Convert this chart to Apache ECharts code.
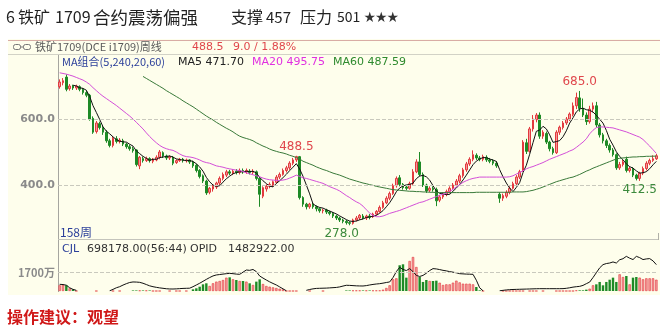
<!DOCTYPE html>
<html><head><meta charset="utf-8">
<script src="https://cdn.jsdelivr.net/npm/echarts@6/dist/echarts.min.js"></script>
<style>html,body{margin:0;padding:0;background:#fff}#c{width:670px;height:330px}</style>
</head><body><div id="c"></div>
<script>
// weekly OHLC: [open, close, low, high]
const ohlc = [
[698,712,692,720],[710,716,702,724],[727,690,684,735],[692,700,686,706],[700,694,688,704],
[694,700,688,704],[698,690,684,702],[690,680,674,694],[680,672,666,686],[672,600,595,676],
[602,560,555,608],[562,588,556,594],[586,574,568,592],[574,560,552,580],[560,534,528,566],
[534,520,514,540],[520,542,514,548],[540,532,526,548],[532,536,526,542],[534,524,518,540],
[524,516,510,528],[516,510,504,522],[510,504,498,516],[506,462,456,508],[458,484,448,488],
[480,474,468,486],[474,480,470,486],[480,474,468,484],[472,478,466,482],[476,484,472,490],
[484,500,478,506],[498,488,482,502],[488,482,476,492],[482,486,476,490],[484,466,460,488],
[468,474,464,478],[474,478,470,482],[478,474,468,482],[474,476,468,480],[476,470,464,478],
[470,458,452,474],[460,444,438,464],[444,426,420,448],[428,412,406,432],[412,376,370,416],
[378,390,372,394],[388,396,380,400],[394,406,388,410],[406,420,400,426],[420,432,414,438],
[430,440,424,446],[440,436,430,446],[436,442,430,448],[442,438,432,448],[438,444,432,450],
[444,440,434,450],[440,444,434,450],[442,438,432,448],[438,442,432,448],[440,420,414,444],
[420,372,334,424],[366,392,360,396],[388,396,380,402],[396,402,390,408],[400,410,394,414],
[408,424,404,430],[424,432,418,438],[432,444,428,450],[444,452,438,458],[452,466,446,472],
[466,476,460,482],[476,486,470,488.5],[486,362,356,488],[362,342,334,366],[342,334,326,346],
[334,342,328,346],[342,334,328,346],[334,328,320,338],[328,322,316,332],[322,324,314,328],
[324,318,312,328],[318,314,308,322],[314,306,300,318],[306,300,294,310],[300,294,288,304],
[294,290,284,298],[290,286,280,294],[286,284,278,290],[284,294,280,298],[294,300,290,306],
[300,308,294,312],[306,300,296,312],[300,306,294,310],[306,302,296,312],[304,312,300,316],
[312,320,308,324],[320,332,316,338],[332,346,328,352],[346,360,342,366],[360,374,354,380],
[374,398,370,404],[398,420,392,426],[422,402,396,430],[402,392,386,406],[394,390,384,398],
[390,404,386,410],[404,440,400,448],[440,470,436,478],[470,432,426,500],[432,400,394,438],
[400,382,376,404],[384,390,378,396],[390,386,380,396],[386,352,336,392],[354,364,348,370],
[364,372,358,378],[372,380,366,386],[380,390,374,396],[390,400,386,406],[400,412,396,418],
[412,428,406,434],[428,446,422,452],[446,464,440,470],[464,478,458,484],[478,492,472,505],
[490,482,476,496],[482,478,472,488],[478,486,472,492],[484,476,470,490],[476,472,466,482],
[472,466,460,478],[466,458,452,472],[372,360,346,378],[360,368,352,374],[366,378,360,384],
[378,390,372,396],[390,404,386,410],[404,424,400,430],[424,440,418,446],[445,530,440,536],
[528,502,494,540],[502,570,498,576],[570,600,562,612],[598,612,590,618],[612,548,540,620],
[548,560,540,566],[556,530,524,562],[530,510,502,534],[510,498,492,516],[498,560,494,566],
[560,575,552,580],[574,588,568,594],[588,600,582,606],[600,615,594,620],[614,640,608,650],
[640,665,630,680],[664,632,622,685],[632,612,606,662],[612,592,582,620],[592,630,586,640],
[630,640,620,650],[640,582,574,652],[582,552,544,588],[552,534,526,558],[534,520,512,540],
[520,506,498,526],[506,492,486,512],[492,452,446,496],[452,462,446,470],[462,470,456,476],
[478,444,438,486],[444,450,438,456],[450,430,424,454],[430,420,414,434],[420,436,412.5,440],
[436,450,430,456],[450,466,444,472],[466,474.5,460,480],[474.5,479.5,470,490],[479.5,488.5,476,494]
];
const ma20 = [
740,738,736,733,730,726,722,718,712,705,
695,686,677,669,662,655,648,641,633,625,
617,609,600,590,580,570,558,547,537,528,
520,514,510,507,505,500,494,489,486,485,
483,480,476,471,468,466,462,458,456,454,
451,449,447,445,444,441,437,434,431,428,
425,421,418,416,415,414,414,415,417,421,
425,430,426,422,420,417,414,411,408,405,
400,395,391,387,382,375,368,362,355,349,
344,336,325,315,308,304,304,306,310,314,
317,320,323,327,331,335,339,343,347,349,
353,357,361,365,369,372,375,380,387,394,
401,408,413,417,420,422,424,424,424,424,
424,424,424,424,424,425,428,433,438,443,
449,453,456,460,464,468,473,478,482,486,
490,494,498,503,507,514,522,530,540,555,
566,574,576,576,575,574,573,570,567,564,
561,557,553,549,545,538,528,518,507,495.75
];
const ma60 = [
null,null,null,null,null,null,null,null,null,null,
null,null,null,null,null,null,null,null,null,null,
null,null,null,null,null,729,723,717,711,705,
699,693,686,680,674,668,662,655,649,643,
637,630,623,616,609,603,597,590,584,578,
572,567,561,554,548,544,541,538,534,528,
523,518,514,509,505,502,499,497,494,490,
487,483,479,472,468,464,460,455,451,447,
444,440,436,433,430,426,422,418,415,412,
409,406,404,401,399,396,394,392,390,388,
386,385,384,383,382,381,381,380,380,379,
379,378,378,377,377,377,377,377,377,377,
377,377,377,377,377,378,378,378,378,378,
378,378,378,378,378,378,379,379,379,379,
380,382,384,387,390,394,398,402,406,410,
413,416,419,422,424,428,432,437,442,446,
451,455,459,463,467,471,475,479,481,482,
483,484,485,485,486,486,487,487,487.3,487.59
];
// volume (CJL, 万) and open interest (OPID) on the same panel scale
const volume = [
530,590,530,250,150,0,0,0,0,0,
0,0,0,0,0,0,0,0,0,0,
0,0,50,50,50,50,50,50,0,0,
0,0,0,0,0,0,0,0,0,0,
155,250,400,620,715,465,715,870,930,1020,
1240,1270,1085,1020,930,930,870,715,560,870,
1085,650,465,400,340,280,215,155,0,0,
0,0,0,0,0,0,0,0,0,0,
0,0,0,0,0,0,50,50,50,50,
50,50,50,50,50,50,50,125,280,530,
1085,1180,2390,2480,1240,2790,3160,2230,1300,840,
1020,930,930,960,770,560,620,620,775,960,
800,680,680,680,620,370,60,0,0,0,
0,0,0,0,0,0,0,0,0,0,
0,0,0,0,0,0,0,0,0,0,
0,0,0,0,0,60,60,60,125,215,
530,620,840,530,840,1050,1240,840,1550,1300,
1395,620,1240,1300,1240,1085,1180,1180,1180,1050
];
const opid = [
620,600,540,300,150,60,null,null,null,null,
null,null,null,null,null,20,150,300,400,550,
680,790,840,830,805,720,600,480,400,340,
290,250,210,190,185,200,220,240,250,260,
400,560,720,900,1080,1250,1400,1490,1530,1570,
1610,1640,1610,1570,1550,1750,1950,1920,2000,1800,
1395,1200,1020,850,700,560,380,200,20,null,
null,null,null,null,60,140,200,240,250,260,
270,290,310,330,380,460,530,520,500,480,
470,465,500,560,610,650,680,730,790,840,
1250,1800,2200,2000,1900,2080,1800,1450,1350,1450,
1650,1900,2080,2050,1990,1920,1870,1800,1750,1690,
1610,1590,1570,1560,1550,1000,300,20,null,null,
null,null,20,60,100,125,140,150,160,170,
180,190,200,210,215,215,215,215,215,215,
215,220,250,300,360,400,430,520,680,830,
1250,1700,2150,2450,2550,2600,2700,2600,2900,3000,
3220,3050,2920,3220,3100,2920,2980,3010,2800,2450
];
const priceTicks = [400, 600];
const volTick = 1700;
const peaks = [[71, 488.5], [156, 685]];
const troughs = [[87, 278], [174, 412.5]];
const legendTexts = ['MA组合(5,240,20,60)', 'MA5 471.70', 'MA20 495.75', 'MA60 487.59'];

const weeks = ohlc.map((d, i) => i + 1);
const closes = ohlc.map(d => d[1]);
const ma5 = closes.map((c, i) => i < 4 ? null : +((closes[i]+closes[i-1]+closes[i-2]+closes[i-3]+closes[i-4])/5).toFixed(2));

const UP = '#f39a9a', UPB = '#e2393e', DN = '#1e8a26';
const CJK = '"Noto Sans CJK SC", sans-serif';
const LAT = '"DejaVu Sans", "Noto Sans CJK SC", sans-serif';

function txt(x, y, text, font, fill) {
  return {type: 'text', x: x, y: y, style: {text: text, font: font, fill: fill, verticalAlign: 'middle'}};
}

const chart = echarts.init(document.getElementById('c'));
chart.setOption({
  animation: false,
  grid: [
    {left: 58, right: 12, top: 70, height: 166},
    {left: 58, right: 12, top: 243, height: 48}
  ],
  xAxis: [
    {type: 'category', data: weeks, gridIndex: 0, show: false},
    {type: 'category', data: weeks, gridIndex: 1, show: false}
  ],
  yAxis: [
    {gridIndex: 0, min: 245.5, max: 748.5, axisLine: {show: false}, axisTick: {show: false}, splitLine: {show: false},
     axisLabel: {margin: 3, color: '#8a8a8a', fontWeight: 'bold', fontSize: 11, fontFamily: LAT,
       formatter: v => priceTicks.indexOf(v) >= 0 ? v.toFixed(1) : ''}},
    {gridIndex: 1, min: 0, max: 4460, interval: volTick, axisLine: {show: false}, axisTick: {show: false}, splitLine: {show: false},
     axisLabel: {margin: 3, color: '#8a8a8a', fontWeight: 'bold', fontSize: 11, fontFamily: CJK,
       formatter: v => v === volTick ? volTick + '万' : ''}}
  ],
  series: [
    {type: 'candlestick', data: ohlc, xAxisIndex: 0, yAxisIndex: 0, barWidth: 2.4,
     itemStyle: {color: UP, color0: DN, borderColor: UPB, borderColor0: DN, borderWidth: 1},
     markPoint: {symbol: 'circle', symbolSize: 0, silent: true,
       data: peaks.map(p => ({coord: [p[0], p[1]], value: p[1],
               label: {show: true, position: 'top', distance: 3, color: '#e0474c', fontSize: 12, fontFamily: LAT, formatter: p[1].toFixed(1)}}))
         .concat(troughs.map(p => ({coord: [p[0], p[1]], value: p[1],
               label: {show: true, position: 'bottom', distance: 3, offset: [p[0] === 87 ? -8 : 0, 0], color: '#3c8a3c', fontSize: 12, fontFamily: LAT, formatter: p[1].toFixed(1)}})))}
    },
    {type: 'line', data: ma5, xAxisIndex: 0, yAxisIndex: 0, symbol: 'none', lineStyle: {color: '#111', width: 1}, z: 3},
    {type: 'line', data: ma20, xAxisIndex: 0, yAxisIndex: 0, symbol: 'none', lineStyle: {color: '#d44fd8', width: 1}, z: 3},
    {type: 'line', data: ma60, xAxisIndex: 0, yAxisIndex: 0, symbol: 'none', lineStyle: {color: '#3a7a3a', width: 1}, z: 3,
     markLine: {silent: true, symbol: 'none', label: {show: false}, lineStyle: {color: '#c9c9bd', type: 'dashed', width: 1},
       data: priceTicks.map(t => ({yAxis: t}))}},
    {type: 'bar', xAxisIndex: 1, yAxisIndex: 1, barWidth: 2.4,
     data: volume.map((v, i) => ({value: v, itemStyle: ohlc[i][1] >= ohlc[i][0]
       ? {color: UP, borderColor: UPB, borderWidth: 0.6} : {color: DN}})),
     markLine: {silent: true, symbol: 'none', label: {show: false}, lineStyle: {color: '#c9c9bd', type: 'dashed', width: 1},
       data: [{yAxis: volTick}]}},
    {type: 'line', data: opid, xAxisIndex: 1, yAxisIndex: 1, symbol: 'none', connectNulls: false, lineStyle: {color: '#111', width: 1}, z: 3}
  ],
  graphic: [
    {type: 'rect', z: -10, shape: {x: 8, y: 39, width: 652, height: 256}, style: {fill: '#fefeec'}},
    {type: 'line', z: -5, shape: {x1: 8, y1: 40.5, x2: 660, y2: 40.5}, style: {stroke: '#d8aca4', lineWidth: 1}},
    {type: 'line', z: -5, shape: {x1: 8, y1: 54.5, x2: 660, y2: 54.5}, style: {stroke: '#d2d2c6', lineWidth: 1}},
    {type: 'line', z: -5, shape: {x1: 58.5, y1: 55, x2: 58.5, y2: 292}, style: {stroke: '#a6a6a0', lineWidth: 1}},
    {type: 'line', z: -5, shape: {x1: 58, y1: 239.5, x2: 658, y2: 239.5}, style: {stroke: '#c4c4bc', lineWidth: 1}},
    {type: 'line', z: -5, shape: {x1: 658.5, y1: 233, x2: 658.5, y2: 240}, style: {stroke: '#b0b0a8', lineWidth: 1}},
    // header icon
    {type: 'rect', shape: {x: 13.5, y: 44.5, width: 7, height: 5, r: 2}, style: {fill: 'none', stroke: '#777', lineWidth: 1}},
    {type: 'rect', shape: {x: 23.5, y: 44.5, width: 7, height: 5, r: 2}, style: {fill: 'none', stroke: '#777', lineWidth: 1}},
    {type: 'line', shape: {x1: 20, y1: 47, x2: 24, y2: 47}, style: {stroke: '#777', lineWidth: 1}},
    // title
    txt(6, 17, '6', '16px ' + CJK, '#222'),
    txt(18, 17, '铁矿', '16px ' + CJK, '#222'),
    txt(55, 17, '1709', '16px ' + CJK, '#222'),
    txt(93, 17, '合约震荡偏强', '17.5px ' + CJK, '#222'),
    txt(231, 17, '支撑', '16px ' + CJK, '#222'),
    txt(266, 17, '457', '15px ' + CJK, '#222'),
    txt(300, 17, '压力', '16px ' + CJK, '#222'),
    txt(337, 17, '501', '14px ' + CJK, '#222'),
    txt(364, 17, '★★★', '11.5px ' + CJK, '#333'),
    // header strip
    txt(35, 47, '铁矿1709(DCE i1709)周线', '11px ' + CJK, '#5a5a5a'),
    txt(192, 47, '488.5', '11px ' + LAT, '#e0474c'),
    txt(233, 47, '9.0 / 1.88%', '11px ' + LAT, '#e0474c'),
    // MA legend
    txt(62, 62, legendTexts[0], '11px ' + CJK, '#2b3f9a'),
    txt(178, 62, legendTexts[1], '11px ' + LAT, '#222'),
    txt(252, 62, legendTexts[2], '11px ' + LAT, '#e030e0'),
    txt(333, 62, legendTexts[3], '11px ' + LAT, '#2e8a2e'),
    txt(60, 232, '158周', '12px ' + CJK, '#2b3f9a'),
    // volume header
    txt(62, 249, 'CJL', '11px ' + LAT, '#2b3f9a'),
    txt(87, 249, '698178.00(56:44)', '11px ' + LAT, '#333'),
    txt(190, 249, 'OPID', '11px ' + LAT, '#333'),
    txt(228, 249, '1482922.00', '11px ' + LAT, '#333'),
    // advice
    txt(7, 317, '操作建议：观望', 'bold 16px ' + CJK, '#d01818')
  ]
});
</script></body></html>
